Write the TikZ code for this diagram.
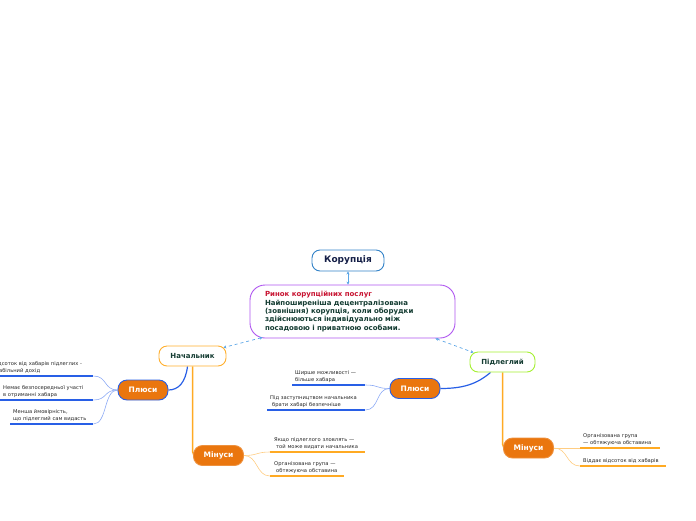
\documentclass[tikz,border=0pt]{standalone}
\usepackage{fontspec}
\setmainfont{DejaVu Sans}
\usetikzlibrary{arrows.meta,calc}
\pgfdeclarelayer{bg}\pgfsetlayers{bg,main}
\definecolor{korblue}{RGB}{50,130,200}
\definecolor{purp}{RGB}{175,85,240}
\definecolor{nachor}{RGB}{255,175,45}
\definecolor{pidgr}{RGB}{165,240,50}
\definecolor{subor}{RGB}{234,118,14}
\definecolor{mainblue}{RGB}{40,95,230}
\definecolor{lightblue}{RGB}{140,170,245}
\definecolor{mainor}{RGB}{255,170,35}
\definecolor{lightor}{RGB}{255,205,130}
\definecolor{dashblue}{RGB}{90,165,230}
\definecolor{nodetext}{RGB}{20,60,50}
\definecolor{kortext}{RGB}{20,30,70}
\definecolor{titlered}{RGB}{200,20,50}
\definecolor{leaftext}{RGB}{40,40,40}
\begin{document}
\begin{tikzpicture}[x=1pt,y=-1pt,
  topic/.style={draw, fill=white, rounded corners=8pt, line width=0.9pt,
    font=\fontsize{7}{8}\selectfont\bfseries, text=nodetext,
    minimum height=20pt, inner sep=0pt},
  subnode/.style={fill=subor, rounded corners=9pt, line width=0.9pt,
    minimum width=50pt, minimum height=20pt, inner sep=0pt,
    font=\fontsize{7.5}{8}\selectfont\bfseries, text=white},
  leaf/.style={anchor=south west, align=left, inner xsep=3pt, inner ysep=2.5pt,
    font=\fontsize{5.2}{7}\selectfont, text=leaftext},
  ulblue/.style={draw=mainblue, line width=1.4pt},
  ulor/.style={draw=mainor, line width=1.4pt},
  thinblue/.style={draw=lightblue, line width=0.6pt},
  thinor/.style={draw=lightor, line width=0.6pt},
  mainb/.style={draw=mainblue, line width=1.2pt},
  maino/.style={draw=mainor, line width=1.5pt},
  dashlink/.style={draw=dashblue, line width=0.7pt, dashed,
    {Stealth[length=3pt,width=3pt]}-{Stealth[length=3pt,width=3pt]}},
  solidlink/.style={draw=dashblue, line width=0.7pt,
    {Stealth[length=3pt,width=3pt]}-{Stealth[length=3pt,width=3pt]}}
]
\useasboundingbox (0,0) rectangle (696,520);
\clip (0,0) rectangle (696,520);

% main nodes
\node[topic, draw=korblue, text=kortext, minimum width=72pt, minimum height=21pt,
  font=\fontsize{9}{10}\selectfont\bfseries] (kor) at (348,260.5) {Корупція};
\node[draw=purp, fill=white, rounded corners=15pt, line width=0.9pt,
  minimum width=205pt, minimum height=53pt, inner xsep=15pt, inner ysep=0pt,
  text width=175pt, align=left, font=\fontsize{7}{8.3}\selectfont\bfseries,
  text=nodetext] (cent) at (352.5,311.5)
  {\textcolor{titlered}{Ринок корупційних послуг}\\
   Найпоширеніша децентралізована\\
   (зовнішня) корупція, коли оборудки\\
   здійснюються індивідуально між\\
   посадовою і приватною особами.};
\node[topic, draw=nachor, minimum width=67pt] (nach) at (192.5,356) {Начальник};
\node[topic, draw=pidgr, minimum width=65pt] (pid) at (502.5,362) {Підлеглий};

\node[subnode, draw=mainblue] (plL) at (143,390) {Плюси};
\node[subnode, draw=subor!80!white] (miL) at (218.5,455.5) {Мінуси};
\node[subnode, draw=mainblue] (plR) at (415,388.5) {Плюси};
\node[subnode, draw=subor!80!white] (miR) at (528.5,448) {Мінуси};

% leaves: left Плюси
\node[leaf, text width=97pt] (a1) at (-10,376) {Відсоток від хабарів підлеглих -\\стабільний дохід};
\node[leaf, text width=87pt] (a2) at (0,400) {Немає безпосередньої участі\\в отриманні хабара};
\node[leaf, text width=77pt] (a3) at (10,424) {Менша ймовірність,\\що підлеглий сам видасть};
% leaves: right Плюси
\node[leaf, text width=67pt] (b1) at (292,385) {Ширше можливості —\\більше хабара};
\node[leaf, text width=92pt] (b2) at (267,410) {Під заступництвом начальника\\\hspace*{2pt}брати хабарі безпечніше};
% leaves: left Мінуси
\node[leaf, text width=89pt] (c1) at (270,452) {\hspace*{1pt}Якщо підлеглого зловлять —\\\hspace*{3pt}той може видати начальника};
\node[leaf, text width=68pt] (c2) at (270,476) {\hspace*{1pt}Організована група —\\\hspace*{3pt}обтяжуюча обставина};
% leaves: right Мінуси
\node[leaf, text width=74pt] (d1) at (580,448) {Організована група\\— обтяжуюча обставина};
\node[leaf, text width=80pt] (d2) at (580,466) {Віддає відсоток від хабарів};

\begin{pgfonlayer}{bg}
  % underlines
  \foreach \n in {a1,a2,a3,b1,b2} \draw[ulblue] (\n.south west) -- (\n.south east);
  \foreach \n in {c1,c2,d1,d2} \draw[ulor] (\n.south west) -- (\n.south east);
  % leaf connectors
  \foreach \n in {a1,a2,a3}
    \draw[thinblue] (plL.west) .. controls +(-14,0) and +(14,0) .. (\n.south east);
  \foreach \n in {b1,b2}
    \draw[thinblue] (plR.west) .. controls +(-14,0) and +(14,0) .. (\n.south east);
  \foreach \n in {c1,c2}
    \draw[thinor] (miL.east) .. controls +(14,0) and +(-14,0) .. (\n.south west);
  \foreach \n in {d1,d2}
    \draw[thinor] (miR.east) .. controls +(14,0) and +(-14,0) .. (\n.south west);
  % main connectors
  \draw[mainb] ($(nach.south)+(-5,0)$) .. controls +(-2,16) and +(10,0) .. (plL.east);
  \draw[mainb] ($(pid.south)+(-12,0)$) .. controls +(-14,12) and +(22,0) .. (plR.east);
  \draw[maino] (nach.south) -- ($(nach.south |- miL.center)+(0,-4)$)
     .. controls +(0,3) and +(-3,0) .. ($(miL.west)+(4,0)$);
  \draw[maino] (pid.south) -- ($(pid.south |- miR.center)+(0,-4)$)
     .. controls +(0,3) and +(-3,0) .. ($(miR.west)+(4,0)$);
\end{pgfonlayer}

% links between main nodes
\draw[solidlink] (kor.south) -- (kor.south |- cent.north);
\draw[dashlink] ($(cent.south west)+(13,-1)$) -- ($(nach.north east)+(-3,2)$);
\draw[dashlink] ($(cent.south east)+(-20,0)$) -- ($(pid.north west)+(4,1)$);
\end{tikzpicture}
\end{document}
